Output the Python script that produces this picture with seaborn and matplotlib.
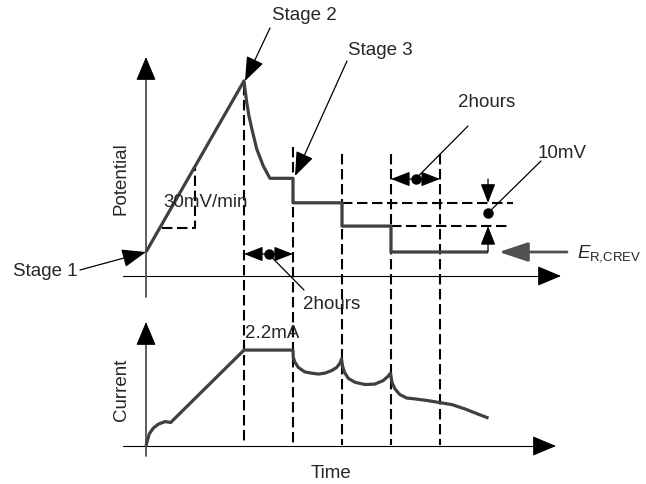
import matplotlib
matplotlib.use("Agg")
import matplotlib.pyplot as plt
import seaborn as sns
import pandas as pd

# ---------------- data (schematic units) ----------------
# time in "stage blocks" (each dashed interval = 2 hours)
pot_time = [0.0, 2.0, 2.02, 2.055, 2.10, 2.16, 2.26, 2.39, 2.50, 2.53,
            3.0, 3.0, 4.0, 4.0, 5.0, 5.0, 6.98]
pot_value = [1.0, 8.13, 7.79, 7.24, 6.68, 6.13, 5.29, 4.60, 4.18, 4.07,
             4.07, 3.05, 3.05, 2.08, 2.08, 1.0, 1.0]

cur_time = [0.0, 0.027, 0.067, 0.149, 0.251, 0.388, 0.504, 2.0, 3.0,
            3.006, 3.04, 3.11, 3.24, 3.38, 3.52, 3.65, 3.79, 3.89, 3.96, 3.99,
            4.01, 4.05, 4.13, 4.27, 4.47, 4.67, 4.84, 4.94, 4.99,
            5.02, 5.08, 5.18, 5.32, 5.49, 5.76, 5.97, 6.24, 6.51, 6.78, 6.99]
cur_value = [0.0, 0.12, 0.28, 0.41, 0.50, 0.56, 0.54, 2.2, 2.2,
             2.03, 1.92, 1.80, 1.70, 1.67, 1.65, 1.67, 1.73, 1.80, 1.90, 2.00,
             1.84, 1.69, 1.55, 1.46, 1.41, 1.42, 1.50, 1.60, 1.67,
             1.46, 1.31, 1.18, 1.10, 1.08, 1.04, 1.00, 0.95, 0.85, 0.73, 0.64]

stage_bounds = [2, 3, 4, 5, 6]
ramp_triangle_t = [0.33, 1.0, 1.0]
ramp_triangle_v = [2.0, 2.0, 4.54]
level_lines = [(3.05, 4.0), (2.08, 5.0)]   # (potential level, start time)

labels = {
    "stage1": "Stage 1", "stage2": "Stage 2", "stage3": "Stage 3",
    "rate": "30mV/min", "hours": "2hours", "step": "10mV",
    "ecrev": r"$E_{\mathrm{R{,}CREV}}$", "imax": "2.2mA",
    "pot": "Potential", "cur": "Current", "time": "Time",
}

# ---------------- style ----------------
sns.set_theme(style="white")
plt.rcParams["font.family"] = ["Liberation Sans", "DejaVu Sans"]
plt.rcParams["mathtext.fontset"] = "custom"
plt.rcParams["mathtext.rm"] = "Liberation Sans"
plt.rcParams["mathtext.it"] = "Liberation Sans:italic"
FS = 13.5
CURVE = "#404040"

W, H = 646, 485
fig = plt.figure(figsize=(W / 100, H / 100), dpi=100)
fig.patch.set_facecolor("white")

# pixel geometry of the schematic
T0_PX, T_PX = 146, 49
V0_PX, V_PX = 277, 24
I0_PX, I_PX = 447, 43.6

def tx(px):
    return (px - T0_PX) / T_PX

def pv(py):
    return (V0_PX - py) / V_PX

def pc(py):
    return (I0_PX - py) / I_PX

ax_p = fig.add_axes([0, 0, 1, 1])
ax_c = fig.add_axes([0, 0, 1, 1])

DASH = (0, (5.0, 2.2))

def arrow(ax, tail, tip, color="black", lw=0.9, scale=14, hl=0.8, hw=0.35, z=5):
    ax.annotate("", xy=tip, xytext=tail,
                arrowprops=dict(arrowstyle=f"-|>,head_length={hl},head_width={hw}",
                                color=color, lw=lw, shrinkA=0, shrinkB=0,
                                mutation_scale=scale),
                zorder=z)

# ---------------- curves ----------------
df_p = pd.DataFrame({"time": pot_time, "potential": pot_value})
df_c = pd.DataFrame({"time": cur_time, "current": cur_value})
sns.lineplot(data=df_p, x="time", y="potential", ax=ax_p, sort=False, estimator=None,
             color=CURVE, lw=2.3, zorder=4, solid_joinstyle="round", solid_capstyle="butt")
sns.lineplot(data=df_c, x="time", y="current", ax=ax_c, sort=False, estimator=None,
             color=CURVE, lw=2.3, zorder=4, solid_joinstyle="round", solid_capstyle="butt")

for ax in (ax_p, ax_c):
    ax.set_xlim(tx(0), tx(W))
    ax.axis("off")
    ax.patch.set_alpha(0)
ax_p.set_ylim(pv(H), pv(0))
ax_c.set_ylim(pc(H), pc(0))

# ---------------- axes arrows ----------------
ax_p.plot([tx(123), tx(548)], [0, 0], color="black", lw=0.8)
arrow(ax_p, (tx(546), 0), (tx(561), 0), lw=0.8, scale=15, hl=1.0, hw=0.42)
ax_p.plot([0, 0], [pv(298), pv(74)], color="#505050", lw=1.3)
arrow(ax_p, (0, pv(76)), (0, pv(58)), lw=0.8, scale=15, hl=1.0, hw=0.42)

ax_c.plot([tx(123), tx(542)], [0, 0], color="black", lw=0.8)
arrow(ax_c, (tx(540), 0), (tx(556), 0), lw=0.8, scale=15, hl=1.0, hw=0.42)
ax_c.plot([0, 0], [pc(457), pc(338)], color="#505050", lw=1.3)
arrow(ax_c, (0, pc(340)), (0, pc(323)), lw=0.8, scale=15, hl=1.0, hw=0.42)

# ---------------- dashed guides ----------------
tops = [pv(86), pv(148), pv(155), pv(155), pv(155)]
for t, top in zip(stage_bounds, tops):
    ax_p.plot([t, t], [top, pv(446)], color="black", lw=1.5, ls=DASH, zorder=2)

ax_p.plot(ramp_triangle_t, ramp_triangle_v, color="black", lw=1.5, ls=DASH, zorder=2)
line_ends = [tx(513), tx(510)]
for (lev, t0), t1 in zip(level_lines, line_ends):
    ax_p.plot([t0, t1], [lev, lev], color="black", lw=1.5, ls=DASH, zorder=2)

# ---------------- stage annotations ----------------
arrow(ax_p, (tx(80), pv(271)), (0, pot_value[0]), lw=0.9, scale=15, hl=1.0, hw=0.38)
ax_p.text(tx(13), pv(272), labels["stage1"], fontsize=FS, ha="left", va="center")

arrow(ax_p, (tx(270), pv(29)), (tx(245), pv(82)), lw=0.9, scale=15, hl=1.0, hw=0.38)
ax_p.text(tx(272), pv(16), labels["stage2"], fontsize=FS, ha="left", va="center")

arrow(ax_p, (tx(347), pv(62)), (tx(295), pv(177)), lw=0.9, scale=15, hl=1.0, hw=0.38)
ax_p.text(tx(348), pv(51), labels["stage3"], fontsize=FS, ha="left", va="center")

ax_p.text(tx(163), pv(203), labels["rate"], fontsize=FS, ha="left", va="center", zorder=6)

# ---------------- "2hours" double arrows ----------------
def double_arrow(ax, t_left, t_right, v):
    mid = (t_left + t_right) / 2
    arrow(ax, (mid, v), (t_left, v), lw=0.9, scale=13, hl=0.9, hw=0.35)
    arrow(ax, (mid, v), (t_right, v), lw=0.9, scale=13, hl=0.9, hw=0.35)
    ax.plot([mid], [v], marker="o", ms=6.5, color="black", zorder=6)
    return mid

m1 = double_arrow(ax_p, 2, 3, pv(255))
ax_p.plot([m1, tx(304)], [pv(255), pv(291)], color="black", lw=0.9)
ax_p.text(tx(303), pv(305), labels["hours"], fontsize=FS, ha="left", va="center")

m2 = double_arrow(ax_p, 5, 6, pv(180))
ax_p.plot([m2, tx(468)], [pv(180), pv(127)], color="black", lw=0.9)
ax_p.text(tx(458), pv(103), labels["hours"], fontsize=FS, ha="left", va="center")

# ---------------- 10mV step ----------------
t_step = pot_time[-1]
arrow(ax_p, (t_step, pv(180)), (t_step, level_lines[0][0]), lw=0.9, scale=13, hl=0.9, hw=0.35)
arrow(ax_p, (t_step, pot_value[-1]), (t_step, level_lines[1][0]), lw=0.9, scale=13, hl=0.9, hw=0.35)
ax_p.plot([t_step], [pv(214)], marker="o", ms=6.5, color="black", zorder=6)
ax_p.plot([t_step, tx(541)], [pv(214), pv(162)], color="black", lw=0.9)
ax_p.text(tx(538), pv(154), labels["step"], fontsize=FS, ha="left", va="center")

# ---------------- E_R,CREV ----------------
arrow(ax_p, (tx(567), pot_value[-1]), (tx(499), pot_value[-1]), color="#505050",
      lw=2.0, scale=20, hl=0.9, hw=0.3)
ax_p.text(tx(577), pv(254), labels["ecrev"], fontsize=FS, ha="left", va="center")

# ---------------- current panel labels ----------------
ax_c.text(tx(245), pc(333), labels["imax"], fontsize=FS, ha="left", va="center", zorder=6)

# axis titles
ax_p.text(tx(121), pv(179), labels["pot"], fontsize=FS, rotation=90, ha="center", va="center")
ax_c.text(tx(121), pc(390), labels["cur"], fontsize=FS, rotation=90, ha="center", va="center")
ax_c.text(tx(331), pc(474), labels["time"], fontsize=FS, ha="center", va="center")

fig.savefig("out.png", dpi=100, facecolor="white")
